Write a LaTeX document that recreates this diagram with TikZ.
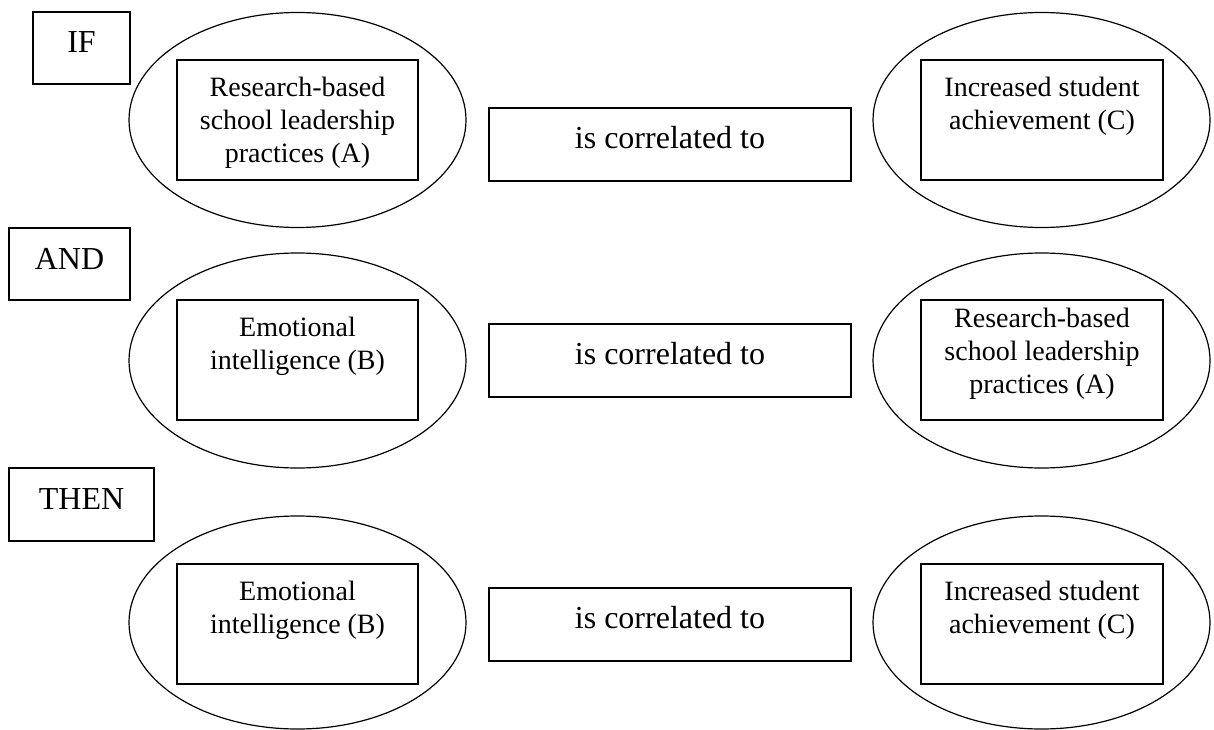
\documentclass[tikz,border=0pt]{standalone}
\usepackage{fontspec}
\setmainfont{Liberation Serif}
\usetikzlibrary{shapes.geometric}
\newcommand\innertext[2]{\parbox[c][120pt][t]{241pt}{\centering\fontsize{28}{33}\selectfont\rule{0pt}{#1}#2}}
\tikzset{
  lblbox/.style={draw, line width=1.5pt, inner sep=0pt, minimum height=72pt,
    font=\fontsize{32}{38}\selectfont, text height=14pt, text depth=4pt},
  ell/.style={draw, ellipse, line width=1.2pt, inner sep=0pt,
    minimum width=337pt, minimum height=215pt},
  inbox/.style={draw, rectangle, line width=1.5pt, inner sep=0pt},
  corrbox/.style={draw, rectangle, line width=1.5pt, inner sep=0pt,
    minimum width=362pt, minimum height=73pt,
    font=\fontsize{32}{38}\selectfont, text height=14pt, text depth=6pt}
}
\begin{document}
\begin{tikzpicture}[x=1pt, y=-1pt]
\useasboundingbox (0,0) rectangle (1214,730);
% row labels
\node[lblbox, minimum width=97pt] (if) at (81.5,48) {IF};
\node[lblbox, minimum width=121pt] (and) at (69.5,264) {AND};
\node[lblbox, minimum width=145pt, minimum height=73pt] (then) at (81.5,504.5) {THEN};
% ellipses
\node[ell] (e1l) at (297.5,120) {};
\node[ell] (e1r) at (1041.5,120) {};
\node[ell] (e2l) at (297.5,360.5) {};
\node[ell] (e2r) at (1041.5,360.5) {};
\node[ell, minimum height=213pt] (e3l) at (297.5,622.5) {};
\node[ell, minimum height=213pt] (e3r) at (1041.5,622.5) {};
% inner boxes
\node[inbox] (a1) at (297.5,120) {\innertext{37pt}{Research-based\\school leadership\\practices (A)}};
\node[inbox, minimum width=242pt] (c1) at (1042,120) {\innertext{37pt}{Increased student\\achievement (C)}};
\node[inbox] (b2) at (297.5,360) {\innertext{36pt}{Emotional\\intelligence (B)}};
\node[inbox, minimum width=242pt] (a2) at (1042,360) {\innertext{27pt}{Research-based\\school leadership\\practices (A)}};
\node[inbox] (b3) at (297.5,624) {\innertext{36pt}{Emotional\\intelligence (B)}};
\node[inbox, minimum width=242pt] (c3) at (1042,624) {\innertext{36pt}{Increased student\\achievement (C)}};
% correlation boxes
\node[corrbox] (r1) at (670,144.5) {is correlated to};
\node[corrbox] (r2) at (670,360.5) {is correlated to};
\node[corrbox] (r3) at (670,624.5) {is correlated to};
\end{tikzpicture}
\end{document}
